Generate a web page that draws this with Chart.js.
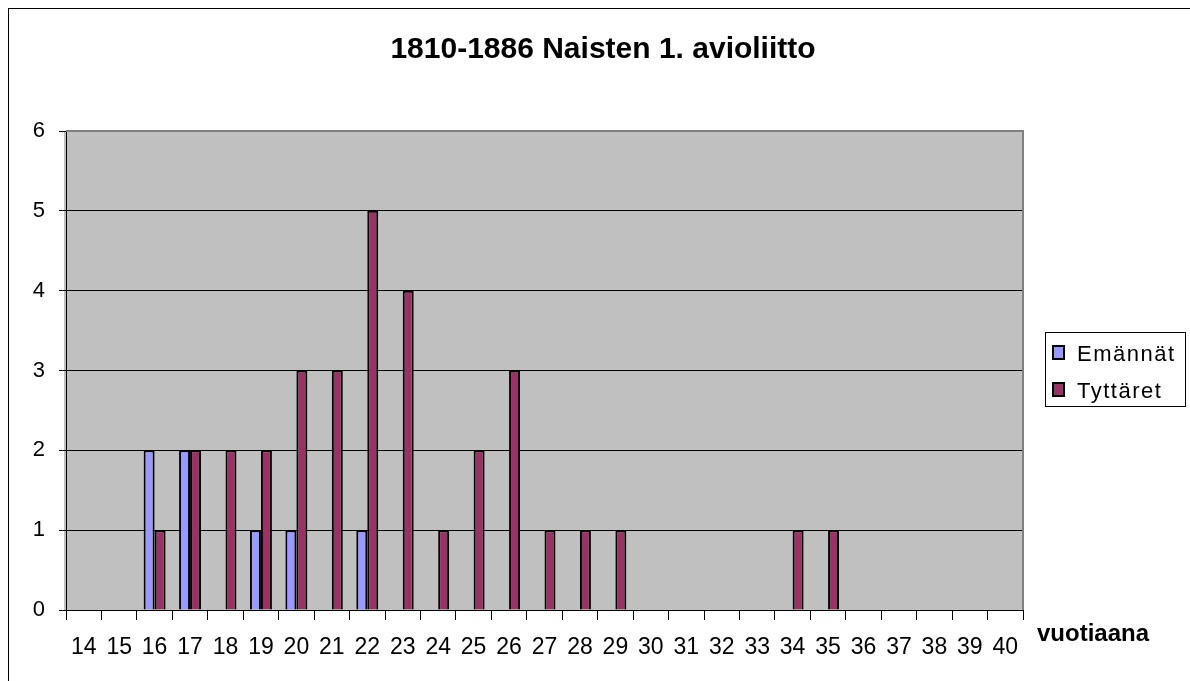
<!DOCTYPE html>
<html>
<head>
<meta charset="utf-8">
<script src="https://cdn.jsdelivr.net/npm/chart.js@4.4.0/dist/chart.umd.min.js"></script>
<style>
  html, body { margin: 0; padding: 0; background: #fff; overflow: hidden; }
  canvas { display: block; }
</style>
</head>
<body>
<canvas id="chart" width="1190" height="681"></canvas>
<script>
// Ages at first marriage
const ages = ["14","15","16","17","18","19","20","21","22","23","24","25","26","27",
              "28","29","30","31","32","33","34","35","36","37","38","39","40"];

const emannat = [0,0,2,2,0,1,1,0,1,0,0,0,0,0,0,0,0,0,0,0,0,0,0,0,0,0,0];
const tyttaret = [0,0,1,2,2,2,3,3,5,4,1,2,3,1,1,1,0,0,0,0,1,1,0,0,0,0,0];

const titleText = "1810-1886 Naisten 1. avioliitto";
const axisNote = "vuotiaana";

const FONT = "Arial, 'Liberation Sans', sans-serif";

// grey plot background, outer frame, title, legend and axis note
const decorations = {
    id: "decorations",
    beforeDraw(chart) {
        const { ctx, chartArea: a } = chart;
        ctx.save();
        ctx.fillStyle = "#C0C0C0";
        ctx.fillRect(a.left - 2, a.top, a.right - a.left + 2, a.bottom - a.top);
        ctx.restore();
    },
    afterDraw(chart) {
        const { ctx, chartArea: a } = chart;
        ctx.save();
        // plot border
        ctx.strokeStyle = "#808080";
        ctx.lineWidth = 2;
        ctx.beginPath();
        ctx.moveTo(a.left, a.top);
        ctx.lineTo(a.right, a.top);
        ctx.lineTo(a.right, a.bottom);
        ctx.stroke();

        // outer frame
        ctx.strokeStyle = "#000";
        ctx.lineWidth = 1;
        ctx.strokeRect(8.5, 8.5, 1200, 700);

        // title
        ctx.fillStyle = "#000";
        ctx.font = "bold 30px " + FONT;
        ctx.textAlign = "center";
        ctx.textBaseline = "alphabetic";
        ctx.fillText(titleText, 603, 58);

        // "vuotiaana"
        ctx.font = "bold 24px " + FONT;
        ctx.textAlign = "left";
        ctx.fillText(axisNote, 1037, 641);

        // legend box
        ctx.strokeStyle = "#000";
        ctx.lineWidth = 1;
        ctx.strokeRect(1045.5, 332.5, 140, 74);
        ctx.font = "22px " + FONT;
        ctx.letterSpacing = "1.5px";
        chart.data.datasets.forEach((ds, i) => {
            const base = 361 + i * 37;
            ctx.fillStyle = ds.backgroundColor;
            ctx.fillRect(1053, base - 15, 11, 13);
            ctx.strokeStyle = "#000";
            ctx.lineWidth = 2;
            ctx.strokeRect(1053, base - 15, 11, 13);
            ctx.fillStyle = "#000";
            ctx.fillText(ds.label, 1077, base);
        });
        ctx.restore();
    }
};

new Chart(document.getElementById("chart"), {
    type: "bar",
    data: {
        labels: ages,
        datasets: [
            {
                label: "Emännät",
                data: emannat,
                backgroundColor: "#9999FF",
                borderColor: "#000",
                borderWidth: 2,
                categoryPercentage: 0.62,
                barPercentage: 1,
            },
            {
                label: "Tyttäret",
                data: tyttaret,
                backgroundColor: "#993366",
                borderColor: "#000",
                borderWidth: 2,
                categoryPercentage: 0.62,
                barPercentage: 1,
            },
        ],
    },
    options: {
        responsive: false,
        animation: false,
        devicePixelRatio: 1,
        layout: { padding: { left: 0, right: 167, top: 131, bottom: 0 } },
        scales: {
            x: {
                grid: {
                    offset: true,
                    drawOnChartArea: false,
                    color: "#000",
                    tickLength: 10,
                },
                border: { color: "#000", width: 1 },
                ticks: { color: "#000", font: { family: FONT, size: 23 }, padding: 14, maxRotation: 0, autoSkip: false },
                afterFit: (s) => { s.height = 71; },
            },
            y: {
                min: 0,
                max: 6,
                grid: { color: "#000", tickLength: 7, drawTicks: true },
                border: { color: "#000", width: 1 },
                ticks: { stepSize: 1, color: "#000", font: { family: FONT, size: 22 }, padding: 14 },
                afterFit: (s) => { s.width = 66; },
            },
        },
        plugins: {
            legend: { display: false },
            tooltip: { enabled: false },
            title: { display: false },
        },
    },
    plugins: [decorations],
});
</script>
</body>
</html>
